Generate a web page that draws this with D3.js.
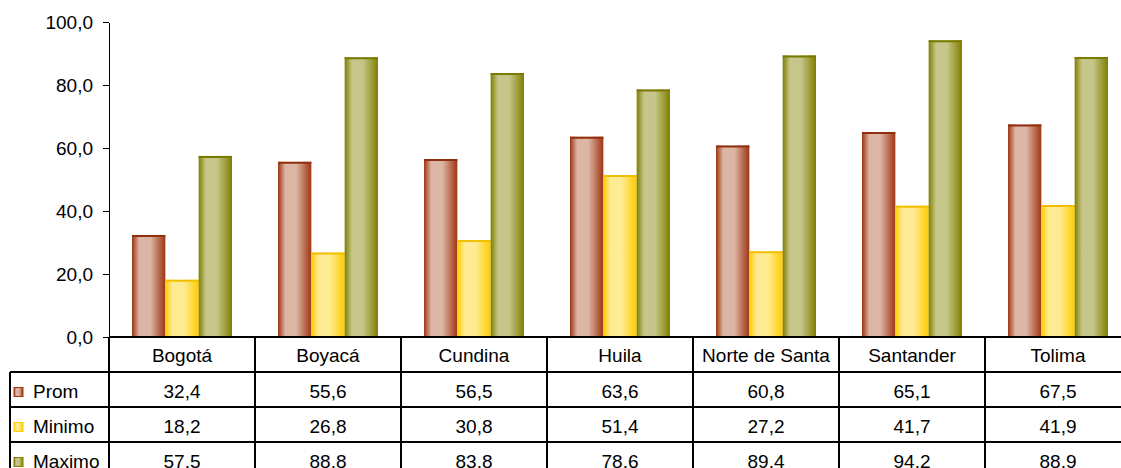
<!DOCTYPE html>
<html lang="es">
<head>
<meta charset="UTF-8">
<title>Prom / Minimo / Maximo</title>
<style>
  body { margin: 0; background: #fff; }
  svg { display: block; font-family: "Liberation Sans", Arial, sans-serif; }
  .axis path, .axis line { stroke: #000; stroke-width: 1.5; shape-rendering: crispEdges; }
  .axis text { font-size: 19px; fill: #000; }
  .grid line { stroke: #000; stroke-width: 1.5; shape-rendering: crispEdges; }
  .cell { font-size: 19px; fill: #000; }
</style>
</head>
<body>
<div id="chart"></div>
<script src="https://d3js.org/d3.v7.min.js"></script>
<script>
// data
var categories = ["Bogotá", "Boyacá", "Cundina", "Huila", "Norte de Santa", "Santander", "Tolima"];
var seriesNames = ["Prom", "Minimo", "Maximo"];
var prom   = [32.4, 55.6, 56.5, 63.6, 60.8, 65.1, 67.5];
var minimo = [18.2, 26.8, 30.8, 51.4, 27.2, 41.7, 41.9];
var maximo = [57.5, 88.8, 83.8, 78.6, 89.4, 94.2, 88.9];
var yTicks = [0, 20, 40, 60, 80, 100];

var values = [prom, minimo, maximo];
var colors = [
  {dark: "#9e3512", light: "#dcb6a4", top: "#8f2f0e"},
  {dark: "#ffcc00", light: "#ffeb94", top: "#f0c000"},
  {dark: "#7f7f00", light: "#c6c68a", top: "#7a7a00"}
];

var W = 1121, H = 468;
var plotLeft = 109, plotTop = 22, plotBottom = 337;
var colW = 146, rowH = 35, tableLeft = 10;

var svg = d3.select("#chart").append("svg")
  .attr("width", W).attr("height", H);

var defs = svg.append("defs");
colors.forEach(function (c, i) {
  var g = defs.append("linearGradient").attr("id", "g" + i)
    .attr("x1", 0).attr("x2", 1).attr("y1", 0).attr("y2", 0);
  g.append("stop").attr("offset", "0%").attr("stop-color", c.dark);
  g.append("stop").attr("offset", "22%").attr("stop-color", c.light);
  g.append("stop").attr("offset", "55%").attr("stop-color", c.light);
  g.append("stop").attr("offset", "100%").attr("stop-color", c.dark);
});

var x = d3.scaleBand().domain(categories)
  .range([plotLeft, plotLeft + colW * categories.length]);
var xs = d3.scaleBand().domain(seriesNames).range([23, colW - 23]);
var y = d3.scaleLinear().domain([0, 100]).range([plotBottom, plotTop]);

// bars
seriesNames.forEach(function (s, si) {
  var grp = svg.append("g");
  grp.selectAll("rect").data(values[si]).enter().append("rect")
    .attr("x", function (d, i) { return x(categories[i]) + xs(s); })
    .attr("y", function (d) { return y(d); })
    .attr("width", xs.bandwidth())
    .attr("height", function (d) { return y(0) - y(d); })
    .attr("fill", "url(#g" + si + ")");
  grp.selectAll("line").data(values[si]).enter().append("line")
    .attr("x1", function (d, i) { return x(categories[i]) + xs(s); })
    .attr("x2", function (d, i) { return x(categories[i]) + xs(s) + xs.bandwidth(); })
    .attr("y1", function (d) { return y(d) + 1; })
    .attr("y2", function (d) { return y(d) + 1; })
    .attr("stroke", colors[si].top).attr("stroke-width", 2);
});

// y axis
svg.append("g").attr("class", "axis")
  .attr("transform", "translate(" + plotLeft + ",0)")
  .call(d3.axisLeft(y).tickValues(yTicks).tickSize(6).tickSizeOuter(0).tickPadding(10)
    .tickFormat(function (d) { return d3.format(".1f")(d).replace(".", ","); }));

// data table
var grid = svg.append("g").attr("class", "grid");
var tableRight = plotLeft + colW * categories.length;
grid.append("line").attr("x1", plotLeft).attr("x2", tableRight).attr("y1", plotBottom).attr("y2", plotBottom);
for (var r = 1; r <= seriesNames.length; r++) {
  grid.append("line").attr("x1", tableLeft).attr("x2", tableRight)
    .attr("y1", plotBottom + r * rowH).attr("y2", plotBottom + r * rowH);
}
grid.append("line").attr("x1", tableLeft).attr("x2", tableLeft)
  .attr("y1", plotBottom + rowH).attr("y2", H + 10);
categories.forEach(function (c) {
  grid.append("line").attr("x1", x(c)).attr("x2", x(c))
    .attr("y1", plotBottom).attr("y2", H + 10);
});
grid.append("line").attr("x1", tableRight).attr("x2", tableRight)
  .attr("y1", plotBottom).attr("y2", H + 10);

// header
svg.append("g").selectAll("text").data(categories).enter().append("text")
  .attr("class", "cell")
  .attr("x", function (d) { return x(d) + colW / 2; })
  .attr("y", plotBottom + rowH / 2 + 7)
  .attr("text-anchor", "middle")
  .text(function (d) { return d; });

var fmt = function (v) { return d3.format(".1f")(v).replace(".", ","); };

seriesNames.forEach(function (s, si) {
  var cy = plotBottom + rowH * (si + 1) + rowH / 2 + 1;
  svg.append("rect")
    .attr("x", 14).attr("y", cy - 3).attr("width", 9).attr("height", 9)
    .attr("fill", "url(#g" + si + ")")
    .attr("stroke", colors[si].dark).attr("stroke-width", 1);
  svg.append("text").attr("class", "cell")
    .attr("x", 33).attr("y", cy + 7).text(s);
  svg.append("g").selectAll("text").data(values[si]).enter().append("text")
    .attr("class", "cell")
    .attr("x", function (d, i) { return x(categories[i]) + colW / 2; })
    .attr("y", cy + 7)
    .attr("text-anchor", "middle")
    .text(fmt);
});
</script>
</body>
</html>
